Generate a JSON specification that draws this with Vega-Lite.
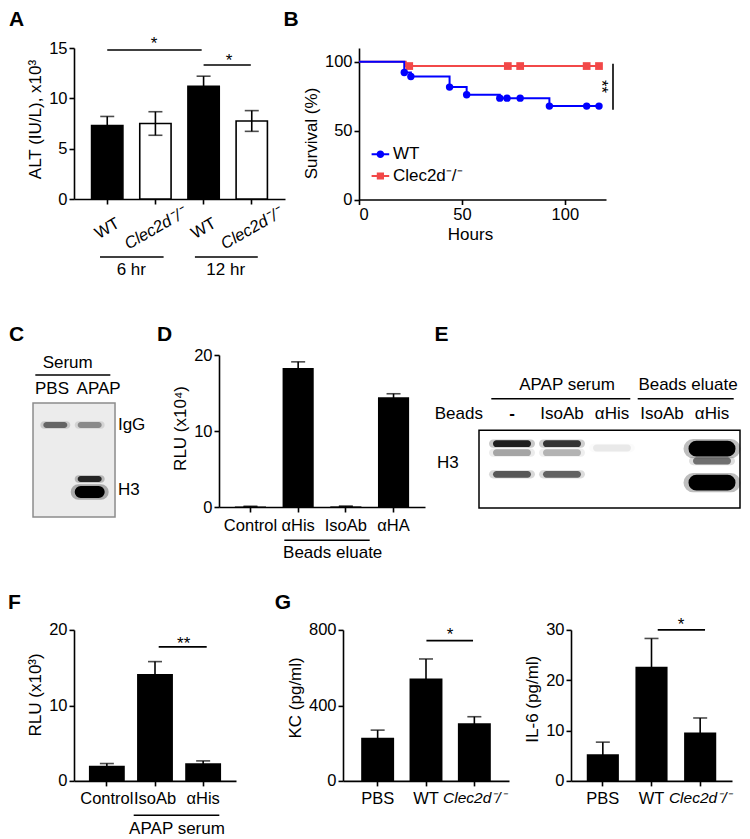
{
"$schema": "https://vega.github.io/schema/vega-lite/v6.json",
"background": "white",
"padding": {"left": 7, "top": 8, "right": 4, "bottom": 2},
"config": {
  "font": "Liberation Sans",
  "view": {"stroke": null},
  "axis": {"labelFontSize": 16.5, "titleFontSize": 17, "labelColor": "black", "titleColor": "black", "domainColor": "black", "tickColor": "black", "domainWidth": 1.6, "tickWidth": 1.6, "tickSize": 5, "labelPadding": 2, "titleFontWeight": "normal", "grid": false, "titlePadding": 4},
  "axisX": {"labelAngle": 0, "labelOverlap": false, "labelPadding": 5},
  "text": {"fontSize": 17, "color": "black"}
},
"bounds": "full",
"spacing": 46,
"vconcat": [
 {"hconcat": [
  {"width": 211, "height": 151,
   "resolve": {"scale": {"x": "independent"}},
   "layer": [
    {"data": {"values": [
       {"cond": "WT6", "geno": "WT", "mean": 7.3, "sem": 0.9},
       {"cond": "KO6", "geno": "KO", "mean": 7.5, "sem": 1.17},
       {"cond": "WT12", "geno": "WT", "mean": 11.2, "sem": 1.0},
       {"cond": "KO12", "geno": "KO", "mean": 7.75, "sem": 1.03}]},
     "layer": [
      {"mark": {"type": "bar", "stroke": "black", "strokeWidth": 1.6},
       "encoding": {
        "x": {"field": "cond", "type": "nominal", "sort": null, "title": null,
              "scale": {"paddingInner": 0.35, "paddingOuter": 0.365},
              "axis": {"labelAngle": -30, "labelAlign": "center", "labelBaseline": "middle", "labelPadding": 24,
                       "labelExpr": "(datum.value === 'WT6' || datum.value === 'WT12') ? 'WT' : 'Clec2d⁻/⁻'",
                       "labelFontStyle": {"condition": {"test": "datum.value === 'KO6' || datum.value === 'KO12'", "value": "italic"}, "value": "normal"}}},
        "y": {"field": "mean", "type": "quantitative", "title": "ALT (IU/L), x10³",
              "scale": {"domain": [0, 15], "nice": false},
              "axis": {"values": [0, 5, 10, 15], "titleY": 71}},
        "fill": {"field": "geno", "type": "nominal", "scale": {"domain": ["WT", "KO"], "range": ["black", "white"]}, "legend": null}}},
      {"mark": {"type": "errorbar", "ticks": {"size": 14}, "thickness": 1.6, "color": "black"},
       "encoding": {
        "x": {"field": "cond", "type": "nominal", "sort": null, "title": null},
        "y": {"field": "mean", "type": "quantitative", "title": "ALT (IU/L), x10³"},
        "yError": {"field": "sem"}}}]},
    {"data": {"values": [{}]},
     "layer": [
      {"mark": {"type": "rule", "strokeWidth": 1.6, "color": "black"},
       "encoding": {"x": {"datum": 0, "type": "quantitative", "scale": {"domain": [-0.69, 3.69], "nice": false, "zero": false}, "axis": null}, "x2": {"datum": 1.96}, "y": {"datum": 14.8, "type": "quantitative"}}},
      {"mark": {"type": "text", "text": "*", "align": "center", "baseline": "alphabetic"},
       "encoding": {"x": {"datum": 0.97, "type": "quantitative", "axis": null}, "y": {"datum": 14.93, "type": "quantitative"}}},
      {"mark": {"type": "rule", "strokeWidth": 1.6, "color": "black"},
       "encoding": {"x": {"datum": 2.0, "type": "quantitative", "axis": null}, "x2": {"datum": 2.98}, "y": {"datum": 13.31, "type": "quantitative"}}},
      {"mark": {"type": "text", "text": "*", "align": "center", "baseline": "alphabetic"},
       "encoding": {"x": {"datum": 2.53, "type": "quantitative", "axis": null}, "y": {"datum": 13.24, "type": "quantitative"}}},
      {"mark": {"type": "rule", "strokeWidth": 1.6, "color": "black"},
       "encoding": {"x": {"datum": -0.15, "type": "quantitative", "axis": null}, "x2": {"datum": 1.17}, "y": {"datum": -5.76, "type": "quantitative"}}},
      {"mark": {"type": "rule", "strokeWidth": 1.6, "color": "black"},
       "encoding": {"x": {"datum": 1.82, "type": "quantitative", "axis": null}, "x2": {"datum": 3.125}, "y": {"datum": -5.76, "type": "quantitative"}}},
      {"mark": {"type": "text", "text": "6 hr", "align": "center", "baseline": "middle"},
       "encoding": {"x": {"datum": 0.5, "type": "quantitative", "axis": null}, "y": {"datum": -7.05, "type": "quantitative"}}},
      {"mark": {"type": "text", "text": "12 hr", "align": "center", "baseline": "middle"},
       "encoding": {"x": {"datum": 2.46, "type": "quantitative", "axis": null}, "y": {"datum": -7.05, "type": "quantitative"}}},
      {"mark": {"type": "text", "text": "A", "align": "left", "baseline": "alphabetic", "fontSize": 21, "fontWeight": "bold"},
       "encoding": {"x": {"datum": -2.04, "type": "quantitative", "axis": null}, "y": {"datum": 17.19, "type": "quantitative"}}}]}]},
  {"width": 247, "height": 151.5,
   "layer": [
    {"data": {"values": [
       {"hours": 0, "surv": 100}, {"hours": 22.7, "surv": 96.9}, {"hours": 116.6, "surv": 96.9}]},
     "mark": {"type": "line", "interpolate": "step-after", "strokeWidth": 2, "color": "#F24848"},
     "encoding": {
      "x": {"field": "hours", "type": "quantitative", "title": "Hours", "scale": {"domain": [0, 120], "nice": false, "zero": false}, "axis": {"values": [0, 50, 100], "labelPadding": 2, "titleX": 111, "titlePadding": 3}},
      "y": {"field": "surv", "type": "quantitative", "title": "Survival (%)", "scale": {"domain": [0, 110], "nice": false}, "axis": {"values": [0, 50, 100], "titleY": 85}}}},
    {"data": {"values": [
       {"hours": 0, "surv": 100}, {"hours": 22, "surv": 92.2}, {"hours": 25.2, "surv": 89.3}, {"hours": 44, "surv": 81.6}, {"hours": 52.3, "surv": 76.1}, {"hours": 68.4, "surv": 73.6}, {"hours": 92.5, "surv": 67.8}, {"hours": 116.6, "surv": 67.8}]},
     "mark": {"type": "line", "interpolate": "step-after", "strokeWidth": 2, "color": "#0000FF"},
     "encoding": {
      "x": {"field": "hours", "type": "quantitative", "title": "Hours"},
      "y": {"field": "surv", "type": "quantitative", "title": "Survival (%)"}}},
    {"data": {"values": [
       {"hours": 24.4, "surv": 96.9}, {"hours": 72.3, "surv": 96.9}, {"hours": 78.3, "surv": 96.9}, {"hours": 110.6, "surv": 96.9}, {"hours": 116.6, "surv": 96.9}]},
     "mark": {"type": "point", "shape": "square", "filled": true, "opacity": 1, "size": 60, "color": "#F24848"},
     "encoding": {
      "x": {"field": "hours", "type": "quantitative", "title": "Hours"},
      "y": {"field": "surv", "type": "quantitative", "title": "Survival (%)"}}},
    {"data": {"values": [
       {"hours": 22, "surv": 92.2}, {"hours": 25.2, "surv": 89.3}, {"hours": 44, "surv": 81.6}, {"hours": 52.3, "surv": 76.1}, {"hours": 68.4, "surv": 73.6}, {"hours": 71.9, "surv": 73.6}, {"hours": 78.3, "surv": 73.6}, {"hours": 92.5, "surv": 67.8}, {"hours": 110.6, "surv": 67.8}, {"hours": 116.6, "surv": 67.8}]},
     "mark": {"type": "point", "shape": "circle", "filled": true, "opacity": 1, "size": 55, "color": "#0000FF"},
     "encoding": {
      "x": {"field": "hours", "type": "quantitative", "title": "Hours"},
      "y": {"field": "surv", "type": "quantitative", "title": "Survival (%)"}}},
    {"data": {"values": []},
     "mark": {"type": "point", "filled": true, "opacity": 1},
     "encoding": {
      "color": {"field": "geno", "type": "nominal", "scale": {"domain": ["WT", "Clec2d⁻/⁻"], "range": ["#0000FF", "#F24848"]},
        "legend": {"orient": "none", "legendX": 297.9, "legendY": 97.8, "title": null, "labelFontSize": 17, "labelColor": "black", "symbolSize": 64, "symbolStrokeWidth": 0, "labelOffset": 4, "rowPadding": 3.7, "padding": 0, "labelLimit": 0}},
      "shape": {"field": "geno", "type": "nominal", "scale": {"domain": ["WT", "Clec2d⁻/⁻"], "range": [
          "M-2.2,-0.25H2.2V0.25H-2.2Z M0.95,0A0.95,0.95,0,1,1,-0.95,0A0.95,0.95,0,1,1,0.95,0Z",
          "M-2.2,-0.25H2.2V0.25H-2.2Z M-0.9,-0.9H0.9V0.9H-0.9Z"]}, "legend": null}}},
    {"data": {"values": [{}]},
     "layer": [
      {"mark": {"type": "rule", "strokeWidth": 1.6, "color": "black"},
       "encoding": {"x": {"datum": 123.4, "type": "quantitative"}, "y": {"datum": 98.6, "type": "quantitative"}, "y2": {"datum": 65.2}}},
      {"mark": {"type": "text", "text": "**", "angle": 90, "align": "center", "baseline": "middle"},
       "encoding": {"x": {"datum": 117.4, "type": "quantitative"}, "y": {"datum": 82, "type": "quantitative"}}},
      {"mark": {"type": "text", "text": "B", "align": "left", "baseline": "alphabetic", "fontSize": 21, "fontWeight": "bold"},
       "encoding": {"x": {"datum": -36.7, "type": "quantitative"}, "y": {"datum": 126, "type": "quantitative"}}}]}]}
 ], "spacing": 74, "bounds": "flush"},
 {"vconcat": [
  {"hconcat": [
   {"width": 91, "height": 162,
    "resolve": {"scale": {"opacity": "independent", "strokeWidth": "independent"}},
    "layer": [
     {"data": {"values": [{}]},
      "mark": {"type": "rect", "fill": "#ececec", "stroke": "#8c8c8c", "strokeWidth": 1.5},
      "encoding": {
       "x": {"datum": 0.352, "type": "quantitative", "scale": {"domain": [1.5436, 4.189], "nice": false, "zero": false}, "axis": null},
       "x2": {"datum": 2.736},
       "y": {"datum": 4.8, "type": "quantitative", "scale": {"domain": [0, 16.2], "nice": false, "zero": false, "reverse": true}, "axis": null},
       "y2": {"datum": 16.2}}},
     {"data": {"values": [
        {"lane": 1, "mig": 7.0, "intensity": 0.5},
        {"lane": 2, "mig": 7.0, "intensity": 0.35},
        {"lane": 2, "mig": 12.4, "intensity": 0.8},
        {"lane": 2, "mig": 13.7, "intensity": 1.0}]},
      "resolve": {"scale": {"opacity": "independent", "strokeWidth": "independent"}},
      "layer": [
       {"mark": {"type": "point", "shape": "M-0.75,-0.25H0.75A0.25,0.25,0,0,1,0.75,0.25H-0.75A0.25,0.25,0,0,1,-0.75,-0.25Z", "filled": true, "fill": "black", "stroke": "black", "size": 900},
        "encoding": {
         "x": {"field": "lane", "type": "quantitative", "axis": null},
         "y": {"field": "mig", "type": "quantitative", "axis": null},
         "opacity": {"field": "intensity", "type": "quantitative", "scale": {"domain": [0, 1], "range": [0, 0.28]}, "legend": null},
         "strokeWidth": {"field": "intensity", "type": "quantitative", "scale": {"type": "threshold", "domain": [0.95], "range": [0, 8]}, "legend": null}}},
       {"mark": {"type": "point", "shape": "M-0.75,-0.25H0.75A0.25,0.25,0,0,1,0.75,0.25H-0.75A0.25,0.25,0,0,1,-0.75,-0.25Z", "filled": true, "fill": "black", "stroke": "black", "size": 576},
        "encoding": {
         "x": {"field": "lane", "type": "quantitative", "axis": null},
         "y": {"field": "mig", "type": "quantitative", "axis": null},
         "opacity": {"field": "intensity", "type": "quantitative", "scale": {"domain": [0, 1], "range": [0, 1]}, "legend": null},
         "strokeWidth": {"field": "intensity", "type": "quantitative", "scale": {"type": "threshold", "domain": [0.95], "range": [0, 6]}, "legend": null}}}]},
     {"data": {"values": [{}]},
      "layer": [
       {"mark": {"type": "text", "text": "Serum", "align": "center", "baseline": "middle"},
        "encoding": {"x": {"datum": 1.36, "type": "quantitative", "axis": null}, "y": {"datum": 0.77, "type": "quantitative", "axis": null}}},
       {"mark": {"type": "rule", "strokeWidth": 1.6, "color": "black"},
        "encoding": {"x": {"datum": 0.419, "type": "quantitative", "axis": null}, "x2": {"datum": 2.6}, "y": {"datum": 2.0, "type": "quantitative", "axis": null}}},
       {"mark": {"type": "text", "text": "PBS", "align": "center", "baseline": "middle"},
        "encoding": {"x": {"datum": 0.904, "type": "quantitative", "axis": null}, "y": {"datum": 3.4, "type": "quantitative", "axis": null}}},
       {"mark": {"type": "text", "text": "APAP", "align": "center", "baseline": "middle"},
        "encoding": {"x": {"datum": 2.26, "type": "quantitative", "axis": null}, "y": {"datum": 3.4, "type": "quantitative", "axis": null}}},
       {"mark": {"type": "text", "text": "IgG", "align": "left", "baseline": "middle"},
        "encoding": {"x": {"datum": 2.82, "type": "quantitative", "axis": null}, "y": {"datum": 7.0, "type": "quantitative", "axis": null}}},
       {"mark": {"type": "text", "text": "H3", "align": "left", "baseline": "middle"},
        "encoding": {"x": {"datum": 2.82, "type": "quantitative", "axis": null}, "y": {"datum": 13.5, "type": "quantitative", "axis": null}}},
       {"mark": {"type": "text", "text": "C", "align": "left", "baseline": "alphabetic", "fontSize": 21, "fontWeight": "bold"},
        "encoding": {"x": {"datum": -0.346, "type": "quantitative", "axis": null}, "y": {"datum": -1.4, "type": "quantitative", "axis": null}}}]}]},
   {"width": 206, "height": 152,
    "resolve": {"scale": {"x": "independent"}},
    "layer": [
     {"data": {"values": [
        {"cond": "Control", "mean": 0.05, "sem": 0.05},
        {"cond": "αHis", "mean": 18.3, "sem": 0.8},
        {"cond": "IsoAb", "mean": 0.08, "sem": 0.05},
        {"cond": "αHA", "mean": 14.45, "sem": 0.45}]},
      "layer": [
       {"mark": {"type": "bar", "color": "black"},
        "encoding": {
         "x": {"field": "cond", "type": "nominal", "sort": null, "title": null, "scale": {"paddingInner": 0.347, "paddingOuter": 0.333}},
         "y": {"field": "mean", "type": "quantitative", "title": "RLU (x10⁴)", "scale": {"domain": [0, 20], "nice": false}, "axis": {"values": [0, 5, 10, 15, 20], "titleY": 73}}}},
       {"mark": {"type": "errorbar", "ticks": {"size": 14}, "thickness": 1.6, "color": "black"},
        "encoding": {
         "x": {"field": "cond", "type": "nominal", "sort": null, "title": null},
         "y": {"field": "mean", "type": "quantitative", "title": "RLU (x10⁴)"},
         "yError": {"field": "sem"}}}]},
     {"data": {"values": [{}]},
      "layer": [
       {"mark": {"type": "rule", "strokeWidth": 1.6, "color": "black"},
        "encoding": {"x": {"datum": 0.71, "type": "quantitative", "scale": {"domain": [-0.6593, 3.6593], "nice": false, "zero": false}, "axis": null}, "x2": {"datum": 2.5}, "y": {"datum": -4.38, "type": "quantitative"}}},
       {"mark": {"type": "text", "text": "Beads eluate", "align": "center", "baseline": "middle"},
        "encoding": {"x": {"datum": 1.724, "type": "quantitative", "axis": null}, "y": {"datum": -6.01, "type": "quantitative"}}},
       {"mark": {"type": "text", "text": "D", "align": "left", "baseline": "alphabetic", "fontSize": 21, "fontWeight": "bold"},
        "encoding": {"x": {"datum": -1.959, "type": "quantitative", "axis": null}, "y": {"datum": 21.84, "type": "quantitative"}}}]}]},
   {"width": 261, "height": 153,
    "resolve": {"scale": {"opacity": "independent", "strokeWidth": "independent"}},
    "layer": [
     {"data": {"values": [{}]},
      "mark": {"type": "rect", "fill": "white", "stroke": "black", "strokeWidth": 1.5},
      "encoding": {
       "x": {"datum": 0.34, "type": "quantitative", "scale": {"domain": [0.34, 5.56], "nice": false, "zero": false}, "axis": null},
       "x2": {"datum": 5.56},
       "y": {"datum": 7.53, "type": "quantitative", "scale": {"domain": [0, 15.3], "nice": false, "zero": false, "reverse": true}, "axis": null},
       "y2": {"datum": 15.3}}},
     {"data": {"values": [
        {"lane": 1, "mig": 8.87, "intensity": 0.85},
        {"lane": 1, "mig": 9.77, "intensity": 0.3},
        {"lane": 1, "mig": 11.93, "intensity": 0.6},
        {"lane": 2, "mig": 8.87, "intensity": 0.75},
        {"lane": 2, "mig": 9.77, "intensity": 0.25},
        {"lane": 2, "mig": 11.93, "intensity": 0.55},
        {"lane": 3, "mig": 9.3, "intensity": 0.07},
        {"lane": 5, "mig": 9.37, "intensity": 1.0},
        {"lane": 5, "mig": 10.6, "intensity": 0.5},
        {"lane": 5, "mig": 12.77, "intensity": 1.0}]},
      "resolve": {"scale": {"opacity": "independent", "strokeWidth": "independent"}},
      "layer": [
       {"mark": {"type": "point", "shape": "M-0.82,-0.18H0.82A0.18,0.18,0,0,1,0.82,0.18H-0.82A0.18,0.18,0,0,1,-0.82,-0.18Z", "filled": true, "fill": "black", "stroke": "black", "size": 2116},
        "encoding": {
         "x": {"field": "lane", "type": "quantitative", "axis": null},
         "y": {"field": "mig", "type": "quantitative", "axis": null},
         "opacity": {"field": "intensity", "type": "quantitative", "scale": {"domain": [0, 1], "range": [0, 0.25]}, "legend": null},
         "strokeWidth": {"field": "intensity", "type": "quantitative", "scale": {"type": "threshold", "domain": [0.95], "range": [0, 11]}, "legend": null}}},
       {"mark": {"type": "point", "shape": "M-0.82,-0.18H0.82A0.18,0.18,0,0,1,0.82,0.18H-0.82A0.18,0.18,0,0,1,-0.82,-0.18Z", "filled": true, "fill": "black", "stroke": "black", "size": 1444},
        "encoding": {
         "x": {"field": "lane", "type": "quantitative", "axis": null},
         "y": {"field": "mig", "type": "quantitative", "axis": null},
         "opacity": {"field": "intensity", "type": "quantitative", "scale": {"domain": [0, 1], "range": [0, 1]}, "legend": null},
         "strokeWidth": {"field": "intensity", "type": "quantitative", "scale": {"type": "threshold", "domain": [0.95], "range": [0, 9]}, "legend": null}}}]},
     {"data": {"values": [
        {"lane": 2, "label": "IsoAb"},
        {"lane": 3, "label": "αHis"},
        {"lane": 4, "label": "IsoAb"},
        {"lane": 5, "label": "αHis"}]},
      "mark": {"type": "text", "align": "center", "baseline": "middle"},
      "encoding": {
       "x": {"field": "lane", "type": "quantitative", "axis": null},
       "y": {"datum": 5.87, "type": "quantitative", "axis": null},
       "text": {"field": "label"}}},
     {"data": {"values": [{}]},
      "layer": [
       {"mark": {"type": "text", "text": "-", "align": "center", "baseline": "middle", "fontWeight": "bold"},
        "encoding": {"x": {"datum": 1, "type": "quantitative", "axis": null}, "y": {"datum": 5.87, "type": "quantitative", "axis": null}}},
       {"mark": {"type": "text", "text": "Beads", "align": "left", "baseline": "middle"},
        "encoding": {"x": {"datum": -0.546, "type": "quantitative", "axis": null}, "y": {"datum": 5.87, "type": "quantitative", "axis": null}}},
       {"mark": {"type": "text", "text": "H3", "align": "left", "baseline": "middle"},
        "encoding": {"x": {"datum": -0.5, "type": "quantitative", "axis": null}, "y": {"datum": 10.77, "type": "quantitative", "axis": null}}},
       {"mark": {"type": "text", "text": "APAP serum", "align": "center", "baseline": "middle"},
        "encoding": {"x": {"datum": 2.1, "type": "quantitative", "axis": null}, "y": {"datum": 3.03, "type": "quantitative", "axis": null}}},
       {"mark": {"type": "rule", "strokeWidth": 1.6, "color": "black"},
        "encoding": {"x": {"datum": 0.586, "type": "quantitative", "axis": null}, "x2": {"datum": 3.366}, "y": {"datum": 4.37, "type": "quantitative", "axis": null}}},
       {"mark": {"type": "text", "text": "Beads eluate", "align": "center", "baseline": "middle"},
        "encoding": {"x": {"datum": 4.52, "type": "quantitative", "axis": null}, "y": {"datum": 3.03, "type": "quantitative", "axis": null}}},
       {"mark": {"type": "rule", "strokeWidth": 1.6, "color": "black"},
        "encoding": {"x": {"datum": 3.514, "type": "quantitative", "axis": null}, "x2": {"datum": 5.434}, "y": {"datum": 4.37, "type": "quantitative", "axis": null}}},
       {"mark": {"type": "text", "text": "E", "align": "left", "baseline": "alphabetic", "fontSize": 21, "fontWeight": "bold"},
        "encoding": {"x": {"datum": -0.55, "type": "quantitative", "axis": null}, "y": {"datum": -1.4, "type": "quantitative", "axis": null}}}]}]}
  ], "spacing": 54, "bounds": "flush"},
  {"hconcat": [
   {"width": 162, "height": 151,
    "resolve": {"scale": {"x": "independent"}},
    "layer": [
     {"data": {"values": [
        {"cond": "Control", "mean": 2.0, "sem": 0.3},
        {"cond": "IsoAb", "mean": 14.15, "sem": 1.65},
        {"cond": "αHis", "mean": 2.35, "sem": 0.3}]},
      "layer": [
       {"mark": {"type": "bar", "color": "black"},
        "encoding": {
         "x": {"field": "cond", "type": "nominal", "sort": null, "title": null, "scale": {"paddingInner": 0.255, "paddingOuter": 0.31}},
         "y": {"field": "mean", "type": "quantitative", "title": "RLU (x10³)", "scale": {"domain": [0, 20], "nice": false}, "axis": {"values": [0, 5, 10, 15, 20], "titleY": 64.5}}}},
       {"mark": {"type": "errorbar", "ticks": {"size": 14}, "thickness": 1.6, "color": "black"},
        "encoding": {
         "x": {"field": "cond", "type": "nominal", "sort": null, "title": null},
         "y": {"field": "mean", "type": "quantitative", "title": "RLU (x10³)"},
         "yError": {"field": "sem"}}}]},
     {"data": {"values": [{}]},
      "layer": [
       {"mark": {"type": "rule", "strokeWidth": 1.6, "color": "black"},
        "encoding": {"x": {"datum": 1.077, "type": "quantitative", "scale": {"domain": [-0.6826, 2.6826], "nice": false, "zero": false}, "axis": null}, "x2": {"datum": 2.074}, "y": {"datum": 17.75, "type": "quantitative"}}},
       {"mark": {"type": "text", "text": "**", "align": "center", "baseline": "alphabetic"},
        "encoding": {"x": {"datum": 1.596, "type": "quantitative", "axis": null}, "y": {"datum": 17.5, "type": "quantitative"}}},
       {"mark": {"type": "rule", "strokeWidth": 1.6, "color": "black"},
        "encoding": {"x": {"datum": 0.5575, "type": "quantitative", "axis": null}, "x2": {"datum": 2.336}, "y": {"datum": -4.54, "type": "quantitative"}}},
       {"mark": {"type": "text", "text": "APAP serum", "align": "center", "baseline": "middle"},
        "encoding": {"x": {"datum": 1.457, "type": "quantitative", "axis": null}, "y": {"datum": -6.32, "type": "quantitative"}}},
       {"mark": {"type": "text", "text": "F", "align": "left", "baseline": "alphabetic", "fontSize": 21, "fontWeight": "bold"},
        "encoding": {"x": {"datum": -2.054, "type": "quantitative", "axis": null}, "y": {"datum": 22.82, "type": "quantitative"}}}]}]},
   {"width": 107, "height": 10, "data": {"values": []}, "mark": "point"},
   {"width": 166, "height": 151,
    "resolve": {"scale": {"x": "independent"}},
    "layer": [
     {"data": {"values": [
        {"cond": "PBS", "mean": 228, "sem": 41},
        {"cond": "WT", "mean": 543, "sem": 103},
        {"cond": "Clec", "mean": 306, "sem": 34}]},
      "layer": [
       {"mark": {"type": "bar", "color": "black"},
        "encoding": {
         "x": {"field": "cond", "type": "nominal", "sort": null, "title": null, "scale": {"paddingInner": 0.319, "paddingOuter": 0.376},
               "axis": {"labelExpr": "datum.value === 'Clec' ? 'Clec2d⁻/⁻' : datum.value",
                        "labelFontStyle": {"condition": {"test": "datum.value === 'Clec'", "value": "italic"}, "value": "normal"},
                        "labelFontSize": {"condition": {"test": "datum.value === 'Clec'", "value": 15.5}, "value": 16.5}}},
         "y": {"field": "mean", "type": "quantitative", "title": "KC (pg/ml)", "scale": {"domain": [0, 800], "nice": false}, "axis": {"values": [0, 200, 400, 600, 800], "titleY": 67.5}}}},
       {"mark": {"type": "errorbar", "ticks": {"size": 14}, "thickness": 1.6, "color": "black"},
        "encoding": {
         "x": {"field": "cond", "type": "nominal", "sort": null, "title": null},
         "y": {"field": "mean", "type": "quantitative", "title": "KC (pg/ml)"},
         "yError": {"field": "sem"}}}]},
     {"data": {"values": [{}]},
      "layer": [
       {"mark": {"type": "rule", "strokeWidth": 1.6, "color": "black"},
        "encoding": {"x": {"datum": 1.009, "type": "quantitative", "scale": {"domain": [-0.7165, 2.717], "nice": false, "zero": false}, "axis": null}, "x2": {"datum": 1.973}, "y": {"datum": 743.3, "type": "quantitative"}}},
       {"mark": {"type": "text", "text": "*", "align": "center", "baseline": "alphabetic"},
        "encoding": {"x": {"datum": 1.497, "type": "quantitative", "axis": null}, "y": {"datum": 747, "type": "quantitative"}}},
       {"mark": {"type": "text", "text": "G", "align": "left", "baseline": "alphabetic", "fontSize": 21, "fontWeight": "bold"},
        "encoding": {"x": {"datum": -2.128, "type": "quantitative", "axis": null}, "y": {"datum": 911.3, "type": "quantitative"}}}]}]},
   {"width": 62, "height": 10, "data": {"values": []}, "mark": "point"},
   {"width": 161, "height": 151,
    "resolve": {"scale": {"x": "independent"}},
    "layer": [
     {"data": {"values": [
        {"cond": "PBS", "mean": 5.3, "sem": 2.4},
        {"cond": "WT", "mean": 22.7, "sem": 5.6},
        {"cond": "Clec", "mean": 9.6, "sem": 2.9}]},
      "layer": [
       {"mark": {"type": "bar", "color": "black"},
        "encoding": {
         "x": {"field": "cond", "type": "nominal", "sort": null, "title": null, "scale": {"paddingInner": 0.34, "paddingOuter": 0.324},
               "axis": {"labelExpr": "datum.value === 'Clec' ? 'Clec2d⁻/⁻' : datum.value",
                        "labelFontStyle": {"condition": {"test": "datum.value === 'Clec'", "value": "italic"}, "value": "normal"},
                        "labelFontSize": {"condition": {"test": "datum.value === 'Clec'", "value": 15.5}, "value": 16.5}}},
         "y": {"field": "mean", "type": "quantitative", "title": "IL-6 (pg/ml)", "scale": {"domain": [0, 30], "nice": false}, "axis": {"values": [0, 10, 20, 30], "titleY": 68.8}}}},
       {"mark": {"type": "errorbar", "ticks": {"size": 14}, "thickness": 1.6, "color": "black"},
        "encoding": {
         "x": {"field": "cond", "type": "nominal", "sort": null, "title": null},
         "y": {"field": "mean", "type": "quantitative", "title": "IL-6 (pg/ml)"},
         "yError": {"field": "sem"}}}]},
     {"data": {"values": [{}]},
      "layer": [
       {"mark": {"type": "rule", "strokeWidth": 1.6, "color": "black"},
        "encoding": {"x": {"datum": 1.128, "type": "quantitative", "scale": {"domain": [-0.654, 2.654], "nice": false, "zero": false}, "axis": null}, "x2": {"datum": 2.1}, "y": {"datum": 30.0, "type": "quantitative"}}},
       {"mark": {"type": "text", "text": "*", "align": "center", "baseline": "alphabetic"},
        "encoding": {"x": {"datum": 1.607, "type": "quantitative", "axis": null}, "y": {"datum": 30.0, "type": "quantitative"}}}]}]}
  ], "spacing": 0, "bounds": "flush"}
 ], "spacing": 29.9, "bounds": "full"}
]
}
